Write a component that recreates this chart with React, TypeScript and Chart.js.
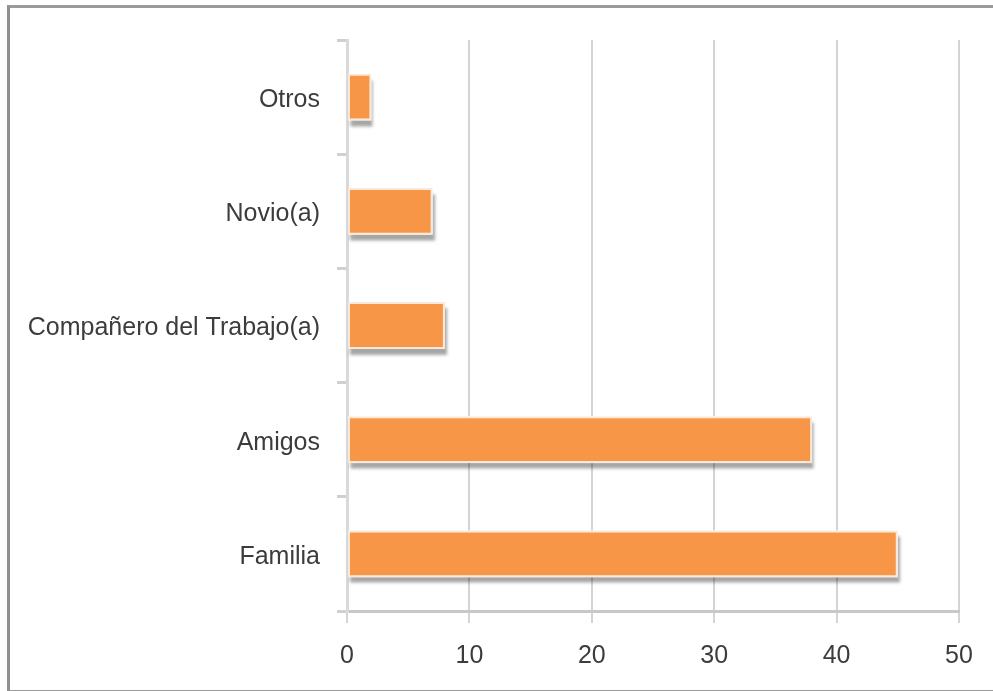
import React, { useEffect, useRef } from 'react';
import { Chart, registerables } from 'chart.js';

Chart.register(...registerables);

const categories = ['Otros', 'Novio(a)', 'Compañero del Trabajo(a)', 'Amigos', 'Familia'];
const values = [2, 7, 8, 38, 45];
const xMin = 0;
const xMax = 50;
const xStep = 10;

const FONT = '"Liberation Sans", Arial, sans-serif';

const shadowPlugin = {
  id: 'barShadow',
  beforeDatasetsDraw(chart: any) {
    const ctx = chart.ctx;
    const meta = chart.getDatasetMeta(0);
    ctx.save();
    ctx.shadowColor = 'rgba(0,0,0,0.35)';
    ctx.shadowOffsetX = 2;
    ctx.shadowOffsetY = 6;
    ctx.shadowBlur = 3;
    ctx.fillStyle = '#ffffff';
    meta.data.forEach((el: any) => {
      const p = el.getProps(['x', 'y', 'base', 'height'], true);
      const left = Math.min(p.x, p.base);
      const w = Math.abs(p.x - p.base);
      ctx.fillRect(left, p.y - p.height / 2, w, p.height);
    });
    ctx.restore();
  },
};

export default function App() {
  const ref = useRef<HTMLCanvasElement>(null);

  useEffect(() => {
    if (!ref.current) return;
    const chart = new Chart(ref.current, {
      type: 'bar',
      data: {
        labels: categories,
        datasets: [
          {
            data: values,
            backgroundColor: '#F79646',
            borderColor: '#FBE8D8',
            borderWidth: 2,
            borderSkipped: false,
            barPercentage: 0.41,
            categoryPercentage: 1,
          },
        ],
      },
      plugins: [shadowPlugin],
      options: {
        indexAxis: 'y',
        responsive: false,
        animation: false,
        layout: { padding: { top: 40, right: 34, left: 0, bottom: 0 } },
        plugins: {
          legend: { display: false },
          tooltip: { enabled: false },
        },
        scales: {
          x: {
            min: xMin,
            max: xMax,
            ticks: {
              stepSize: xStep,
              color: '#3c3c3c',
              font: { family: FONT, size: 25 },
              padding: 18,
            },
            grid: {
              color: '#d4d4d4',
              lineWidth: 2,
              tickLength: 12,
              tickColor: '#d4d4d4',
            },
            border: { display: true, color: '#c8c8c8', width: 3 },
            afterFit(scale: any) {
              scale.height = 80;
            },
          },
          y: {
            ticks: {
              color: '#3c3c3c',
              font: { family: FONT, size: 25 },
              padding: 17,
              labelOffset: 3,
            },
            grid: {
              offset: true,
              drawOnChartArea: false,
              tickLength: 10,
              tickColor: '#d0d0d0',
              lineWidth: 3,
            },
            border: { display: true, color: '#d9d9d9', width: 3 },
            afterFit(scale: any) {
              scale.width = 347;
            },
          },
        },
      },
    });
    return () => chart.destroy();
  }, []);

  return (
    <div style={{ position: 'fixed', left: 0, top: 0, width: 993, height: 691, background: '#fff', overflow: 'hidden' }}>
      <canvas ref={ref} width={993} height={691} style={{ position: 'absolute', left: 0, top: 0 }} />
      <div
        style={{
          position: 'absolute',
          left: 7,
          top: 5,
          width: 1000,
          height: 682,
          borderLeft: '3px solid #8f8f8f',
          borderTop: '3px solid #9a9a9a',
          borderBottom: '2px solid #9a9a9a',
          pointerEvents: 'none',
        }}
      />
    </div>
  );
}
